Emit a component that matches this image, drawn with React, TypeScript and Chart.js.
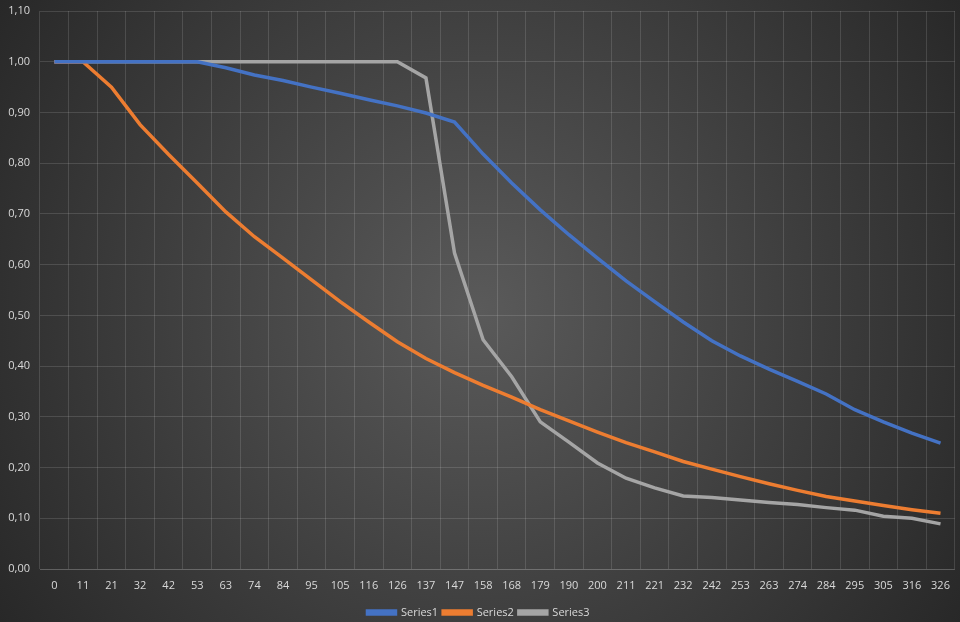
import React, { useEffect, useRef } from 'react'
import { Chart, registerables } from 'chart.js'

Chart.register(...registerables)

const days = [
  '0', '11', '21', '32', '42', '53', '63', '74', '84', '95', '105', '116', '126', '137', '147', '158',
  '168', '179', '190', '200', '211', '221', '232', '242', '253', '263', '274', '284', '295', '305', '316', '326',
]

const series1 = [
  1, 1, 1, 1, 1, 1, 0.988, 0.974, 0.963, 0.95, 0.938, 0.925, 0.913, 0.899, 0.881, 0.818,
  0.761, 0.708, 0.659, 0.613, 0.568, 0.527, 0.487, 0.45, 0.42, 0.394, 0.37, 0.345, 0.314, 0.29, 0.268, 0.248,
]

const series2 = [
  1, 1, 0.95, 0.876, 0.817, 0.761, 0.704, 0.655, 0.613, 0.57, 0.527, 0.487, 0.448, 0.415, 0.387, 0.362,
  0.339, 0.314, 0.292, 0.27, 0.249, 0.231, 0.212, 0.197, 0.182, 0.168, 0.155, 0.143, 0.134, 0.125, 0.117, 0.11,
]

const series3 = [
  1, 1, 1, 1, 1, 1, 1, 1, 1, 1, 1, 1, 1, 0.968, 0.623, 0.452,
  0.379, 0.29, 0.25, 0.209, 0.179, 0.16, 0.144, 0.141, 0.136, 0.131, 0.127, 0.121, 0.116, 0.104, 0.1, 0.089,
]

const background = {
  id: 'background',
  beforeDraw(chart: Chart) {
    const { ctx, width, height } = chart
    const g = ctx.createRadialGradient(width / 2, height / 2, 0, width / 2, height / 2, width * 0.62)
    g.addColorStop(0, '#5a5a5a')
    g.addColorStop(1, '#262626')
    ctx.save()
    ctx.fillStyle = g
    ctx.fillRect(0, 0, width, height)
    ctx.restore()
  },
}

const font = { family: 'Open Sans', size: 11 }
const grid = 'rgba(255,255,255,0.13)'

export default function App() {
  const ref = useRef<HTMLCanvasElement | null>(null)

  useEffect(() => {
    document.body.style.margin = '0'
    if (!ref.current) return
    const mk = (label: string, data: number[], color: string) => ({
      label,
      data,
      borderColor: color,
      backgroundColor: color,
      borderWidth: 3.5,
      pointRadius: 0,
      tension: 0,
    })
    const chart = new Chart(ref.current, {
      type: 'line',
      data: {
        labels: days,
        datasets: [
          mk('Series1', series1, '#4472c4'),
          mk('Series2', series2, '#ed7d31'),
          mk('Series3', series3, '#a5a5a5'),
        ],
      },
      options: {
        animation: false,
        responsive: false,
        layout: { padding: { top: 11, right: 3, left: 0, bottom: -6 } },
        plugins: {
          legend: {
            position: 'bottom',
            labels: {
              color: '#d9d9d9',
              font,
              boxWidth: 28,
              boxHeight: 3,
              padding: 5,
            },
          },
          tooltip: { enabled: false },
        },
        scales: {
          x: {
            offset: true,
            afterFit: (s: any) => {
              s.height = 33
            },
            grid: { color: grid, offset: true, drawTicks: false },
            border: { color: grid },
            ticks: { color: '#d9d9d9', font, padding: 10, maxRotation: 0, autoSkip: false },
          },
          y: {
            min: 0,
            max: 1.1,
            afterFit: (s: any) => {
              s.width = 40
              s.paddingTop = 0
            },
            grid: { color: grid, drawTicks: false },
            border: { display: false },
            ticks: {
              color: '#d9d9d9',
              font,
              stepSize: 0.1,
              padding: 10,
              callback: (v: any) => Number(v).toFixed(2).replace('.', ','),
            },
          },
        },
      },
      plugins: [background],
    })
    return () => chart.destroy()
  }, [])

  return <canvas ref={ref} width={960} height={622} style={{ display: 'block' }} />
}
